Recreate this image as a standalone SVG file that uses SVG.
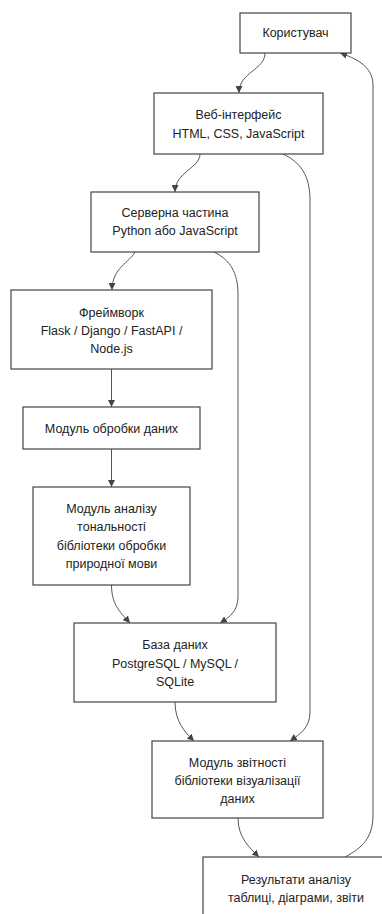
<svg xmlns="http://www.w3.org/2000/svg" width="382" height="914" viewBox="0 0 382 914">
<style>
.box{fill:#fff;stroke:#444;stroke-width:1.2}
.t{font-family:"Liberation Sans",Arial,sans-serif;font-size:12.5px;fill:#222;text-anchor:middle}
.e{fill:none;stroke:#555;stroke-width:1}
</style>
<defs>
<marker id="ah" viewBox="0 0 10 10" refX="10" refY="5" markerWidth="7" markerHeight="7" markerUnits="userSpaceOnUse" orient="auto">
<path d="M0,0 L10,5 L0,10 z" fill="#444"/>
</marker>
</defs>
<rect width="382" height="914" fill="#fff"/>
<g id="connectors">
<path class="e" marker-end="url(#ah)" d="M265,53 C265,70 239,72 239,93"/>
<path class="e" marker-end="url(#ah)" d="M200,154 C200,168 175,172 175,192"/>
<path class="e" marker-end="url(#ah)" d="M283,154 C300,162 310,175 310,200 L310,712 C310,728 300,734 290,741"/>
<path class="e" marker-end="url(#ah)" d="M135,252 C130,262 112,268 112,290"/>
<path class="e" marker-end="url(#ah)" d="M214,252 C230,260 238,272 238,295 L238,597 C238,612 228,618 220,623"/>
<path class="e" marker-end="url(#ah)" d="M111.5,369 L111.5,407"/>
<path class="e" marker-end="url(#ah)" d="M111.5,449 L111.5,487"/>
<path class="e" marker-end="url(#ah)" d="M111.5,585 C111.5,606 122,614 130,623"/>
<path class="e" marker-end="url(#ah)" d="M175,702 C175,722 185,732 194,741"/>
<path class="e" marker-end="url(#ah)" d="M238,818 C238,838 250,848 259,857"/>
<path class="e" marker-end="url(#ah)" d="M345,857 C362,848 373,838 373,815 L373,85 C373,66 355,58 340,53"/>
</g>
<g id="n1"><rect class="box" x="240" y="13" width="111" height="40"/><text class="t" x="295.5" y="37">Користувач</text></g>
<g id="n2"><rect class="box" x="154" y="93" width="169" height="61"/><text class="t" x="238.5" y="119">Веб-інтерфейс</text><text class="t" x="238.5" y="137.5">HTML, CSS, JavaScript</text></g>
<g id="n3"><rect class="box" x="91" y="192" width="168" height="60"/><text class="t" x="175" y="216.5">Серверна частина</text><text class="t" x="175" y="235">Python або JavaScript</text></g>
<g id="n4"><rect class="box" x="11" y="290" width="201" height="79"/><text class="t" x="111.5" y="316.5">Фреймворк</text><text class="t" x="111.5" y="334.5">Flask / Django / FastAPI /</text><text class="t" x="111.5" y="352.5">Node.js</text></g>
<g id="n5"><rect class="box" x="23" y="407" width="177" height="42"/><text class="t" x="111.5" y="432.5">Модуль обробки даних</text></g>
<g id="n6"><rect class="box" x="33" y="487" width="157" height="98"/><text class="t" x="111.5" y="512.5">Модуль аналізу</text><text class="t" x="111.5" y="531">тональності</text><text class="t" x="111.5" y="549.5">бібліотеки обробки</text><text class="t" x="111.5" y="568">природної мови</text></g>
<g id="n7"><rect class="box" x="74" y="623" width="202" height="79"/><text class="t" x="175" y="649">База даних</text><text class="t" x="175" y="667.5">PostgreSQL / MySQL /</text><text class="t" x="175" y="686">SQLite</text></g>
<g id="n8"><rect class="box" x="152" y="741" width="171" height="77"/><text class="t" x="237.5" y="767">Модуль звітності</text><text class="t" x="237.5" y="785">бібліотеки візуалізації</text><text class="t" x="237.5" y="803">даних</text></g>
<g id="n9"><rect class="box" x="203" y="857" width="186" height="62"/><text class="t" x="296" y="884">Результати аналізу</text><text class="t" x="296" y="902">таблиці, діаграми, звіти</text></g>
</svg>
